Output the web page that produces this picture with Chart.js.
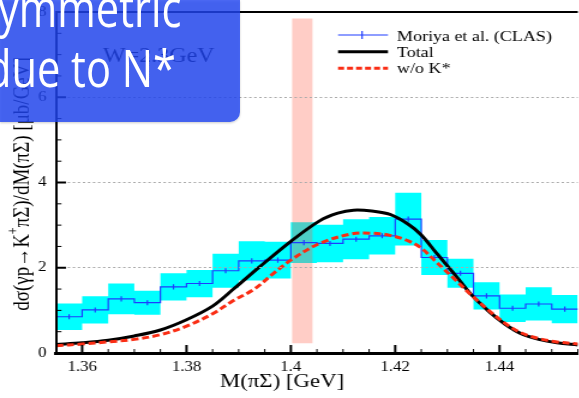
<!DOCTYPE html>
<html>
<head>
<meta charset="utf-8">
<script src="https://cdn.jsdelivr.net/npm/chart.js@4"></script>
<style>
  html, body { margin: 0; padding: 0; background: #fff; overflow: hidden; width: 579px; height: 398px; }
  #wrap { position: absolute; left: 0; top: 0; width: 483px; height: 398px; transform: scaleX(1.2); transform-origin: 0 0; }
  #banner { position: absolute; left: 0; top: 0; z-index: 2; }
</style>
</head>
<body>
<div id="wrap"><canvas id="myChart"></canvas></div>
<svg id="banner" width="246" height="128">
  <defs>
    <filter id="shadow" x="-5%" y="-5%" width="110%" height="115%">
      <feDropShadow dx="0" dy="1" stdDeviation="1" flood-color="#000" flood-opacity="0.25"/>
    </filter>
  </defs>
  <path d="M0 0 H240 V112 A10 10 0 0 1 230 122 H0 Z" fill="rgba(30,70,240,0.8)" filter="url(#shadow)"/>
  <g font-family="'Open Sans', sans-serif" font-size="52" fill="#fff" transform="scale(0.8,1)">
    <text x="-2.5" y="27">ymmetric</text>
    <text x="-17.5" y="87">due to N*</text>
  </g>
</svg>
<script>
// M(piSigma) bins, lower edges [GeV]
const binLo = [1.355, 1.36, 1.365, 1.37, 1.375, 1.38, 1.385, 1.39, 1.395, 1.40,
               1.405, 1.41, 1.415, 1.42, 1.425, 1.43, 1.435, 1.44, 1.445, 1.45];
const binHi = 1.455;
// CLAS data, dsigma/dM [mub/GeV]
const xsec = [0.85, 1.01, 1.27, 1.18, 1.55, 1.63, 1.93, 2.16, 2.18, 2.59,
              2.57, 2.67, 2.75, 3.14, 2.24, 1.87, 1.34, 1.05, 1.15, 1.03];
const sysErr = [0.31, 0.32, 0.36, 0.28, 0.32, 0.32, 0.40, 0.46, 0.43, 0.48,
                0.44, 0.47, 0.44, 0.62, 0.41, 0.34, 0.32, 0.32, 0.39, 0.33];
const statErr = [0.06, 0.06, 0.06, 0.06, 0.06, 0.06, 0.06, 0.06, 0.06, 0.06,
                 0.06, 0.06, 0.06, 0.06, 0.06, 0.06, 0.06, 0.06, 0.06, 0.06];

// model curves
const totalM = [1.355, 1.36, 1.365, 1.37, 1.375, 1.38, 1.385, 1.389, 1.394, 1.40, 1.4055, 1.409, 1.412,
                1.4155, 1.419, 1.4225, 1.425, 1.428, 1.4315, 1.4345, 1.438, 1.441, 1.444, 1.4475, 1.451, 1.455];
const totalY = [0.20, 0.24, 0.30, 0.40, 0.54, 0.78, 1.10, 1.50, 2.02, 2.62, 3.10, 3.28, 3.35,
                3.33, 3.25, 3.02, 2.77, 2.33, 1.83, 1.38, 0.97, 0.68, 0.46, 0.32, 0.24, 0.19];
const noKstarM = [1.355, 1.36, 1.365, 1.37, 1.375, 1.38, 1.385, 1.389, 1.393, 1.3965, 1.40, 1.4055, 1.4115,
                  1.4155, 1.419, 1.4225, 1.425, 1.428, 1.4315, 1.4345, 1.438, 1.441, 1.444, 1.4475, 1.451, 1.455];
const noKstarY = [0.17, 0.21, 0.26, 0.32, 0.43, 0.63, 0.92, 1.23, 1.50, 1.85, 2.18, 2.57, 2.79,
                  2.81, 2.76, 2.63, 2.46, 2.12, 1.72, 1.37, 0.99, 0.70, 0.48, 0.34, 0.26, 0.21];

const kstarBand = [1.4002, 1.4042];
const kstarBandY = [0.23, 7.85];
const xTicks = [1.36, 1.38, 1.40, 1.42, 1.44];
const yTicks = [0, 2, 4, 6, 8];

function steps(vals) {
    const pts = binLo.map((x, i) => ({x: x, y: vals[i]}));
    pts.push({x: binHi, y: vals[vals.length - 1]});
    return pts;
}

const errBars = [];
binLo.forEach((x, i) => {
    const c = (x + (binLo[i + 1] || binHi)) / 2;
    errBars.push({x: c, y: xsec[i] - statErr[i]}, {x: c, y: xsec[i] + statErr[i]}, {x: c, y: null});
});

const serif = '"Liberation Serif", "Times New Roman", serif';
const none = 'rgba(0,0,0,0)';

// axis ticks pointing inward, frame, legend and labels
const decorations = {
    id: 'decorations',
    afterDraw(chart) {
        const ctx = chart.ctx;
        const area = chart.chartArea;
        const xs = chart.scales.x, ys = chart.scales.y;
        ctx.save();
        ctx.strokeStyle = '#000';

        // top frame
        ctx.lineWidth = 2;
        ctx.beginPath();
        ctx.moveTo(area.left, area.top);
        ctx.lineTo(area.right, area.top);
        ctx.stroke();

        for (let k = 0; k <= 16; k++) {
            const v = k * 0.5;
            const major = k % 4 === 0;
            const y = ys.getPixelForValue(v);
            ctx.lineWidth = major ? 2 : 1;
            ctx.beginPath();
            ctx.moveTo(area.left, y);
            ctx.lineTo(area.left + (major ? 8.3 : 4.5), y);
            ctx.stroke();
        }
        for (let k = 0; k <= 20; k++) {
            const v = 1.355 + k * 0.005;
            const major = xTicks.some(t => Math.abs(t - v) < 1e-6);
            const x = xs.getPixelForValue(v);
            ctx.lineWidth = major ? 2 : 1;
            ctx.beginPath();
            ctx.moveTo(x, area.bottom);
            ctx.lineTo(x, area.bottom - (major ? 8 : 4));
            ctx.stroke();
        }

        // legend
        ctx.lineWidth = 1.2;
        ctx.strokeStyle = 'rgb(30,60,255)';
        ctx.beginPath();
        ctx.moveTo(281.7, 35); ctx.lineTo(323.3, 35);
        ctx.moveTo(301.7, 31); ctx.lineTo(301.7, 39);
        ctx.stroke();
        ctx.lineWidth = 3;
        ctx.strokeStyle = '#000';
        ctx.beginPath();
        ctx.moveTo(281.7, 51.7); ctx.lineTo(323.3, 51.7);
        ctx.stroke();
        ctx.strokeStyle = 'rgb(250,45,20)';
        ctx.setLineDash([5, 2.5]);
        ctx.beginPath();
        ctx.moveTo(281.7, 68.3); ctx.lineTo(323.3, 68.3);
        ctx.stroke();
        ctx.setLineDash([]);

        ctx.fillStyle = '#000';
        ctx.textBaseline = 'alphabetic';
        ctx.textAlign = 'left';
        ctx.font = '15px ' + serif;
        ctx.fillText('Moriya et al. (CLAS)', 330.8, 40.7);
        ctx.fillText('Total', 330.8, 56.7);
        ctx.fillText('w/o K*', 330.8, 72.7);

        ctx.font = '20px ' + serif;
        ctx.fillText('W=2.3GeV', 85.8, 62);

        // x title
        ctx.font = '19px ' + serif;
        ctx.textAlign = 'center';
        ctx.fillText('M(πΣ) [GeV]', 235, 387);

        // y title
        ctx.translate(19, 184);
        ctx.rotate(-Math.PI / 2);
        const parts = [['dσ(γp→K', '19px ' + serif, 0], ['+', '12px ' + serif, -7], ['πΣ)/dM(πΣ) [μb/GeV]', '19px ' + serif, 0]];
        let total = 0;
        parts.forEach(p => { ctx.font = p[1]; total += ctx.measureText(p[0]).width; });
        let px = -total / 2;
        ctx.textAlign = 'left';
        ctx.textBaseline = 'middle';
        parts.forEach(p => {
            ctx.font = p[1];
            ctx.fillText(p[0], px, p[2]);
            px += ctx.measureText(p[0]).width;
        });
        ctx.restore();
    }
};

const config = {
    type: 'line',
    data: {
        datasets: [
            {   // systematic band, upper edge
                data: steps(xsec.map((v, i) => v + sysErr[i])),
                stepped: true, fill: '+1', backgroundColor: 'rgb(0,255,255)',
                borderColor: none, pointRadius: 0, order: 6
            },
            {   // systematic band, lower edge
                data: steps(xsec.map((v, i) => v - sysErr[i])),
                stepped: true, fill: false, borderColor: none, pointRadius: 0, order: 6
            },
            {   // K* threshold region
                data: [{x: kstarBand[0], y: kstarBandY[1]}, {x: kstarBand[1], y: kstarBandY[1]}],
                fill: {value: kstarBandY[0]}, backgroundColor: 'rgba(255,88,65,0.3)',
                borderColor: none, pointRadius: 0, order: 5
            },
            {
                label: 'Moriya et al. (CLAS)',
                data: steps(xsec),
                stepped: true, borderColor: 'rgb(30,60,255)', borderWidth: 1.2,
                fill: false, pointRadius: 0, order: 4
            },
            {
                data: errBars,
                borderColor: 'rgb(30,60,255)', borderWidth: 1.2, spanGaps: false,
                fill: false, pointRadius: 0, order: 3
            },
            {
                label: 'Total',
                data: totalM.map((x, i) => ({x: x, y: totalY[i]})),
                borderColor: '#000', borderWidth: 3, tension: 0.35,
                fill: false, pointRadius: 0, order: 2
            },
            {
                label: 'w/o K*',
                data: noKstarM.map((x, i) => ({x: x, y: noKstarY[i]})),
                borderColor: 'rgb(250,45,20)', borderWidth: 3, borderDash: [6, 3],
                tension: 0.35, fill: false, pointRadius: 0, order: 1
            }
        ]
    },
    options: {
        responsive: true,
        maintainAspectRatio: false,
        animation: false,
        events: [],
        layout: { padding: { top: 12, left: 0, right: 0, bottom: 0 } },
        plugins: { legend: { display: false }, tooltip: { enabled: false } },
        scales: {
            x: {
                type: 'linear', min: 1.355, max: 1.455,
                afterBuildTicks: s => { s.ticks = xTicks.map(v => ({value: v})); },
                afterFit: s => { s.height = 45; s.paddingLeft = 0; s.paddingRight = 0; },
                grid: { display: false, drawTicks: false, tickLength: 0 },
                border: { display: true, color: '#000', width: 3, z: 1 },
                ticks: {
                    color: '#000', padding: 6, maxRotation: 0,
                    font: { family: serif, size: 14 },
                    callback: v => String(+v.toFixed(2))
                }
            },
            y: {
                min: 0, max: 8,
                afterBuildTicks: s => { s.ticks = yTicks.map(v => ({value: v})); },
                afterFit: s => { s.width = 46.7; s.paddingTop = 0; s.paddingBottom = 0; },
                grid: {
                    z: 1, drawTicks: false, tickLength: 0, lineWidth: 1,
                    color: c => (c.tick && c.tick.value > 0 && c.tick.value < 8) ? '#aaa' : none
                },
                border: { display: true, color: '#000', width: 2, dash: [2, 2.2], z: 1 },
                ticks: { color: '#000', padding: 8, font: { family: serif, size: 14 } }
            }
        }
    },
    plugins: [decorations]
};

const myChart = new Chart(document.getElementById('myChart'), config);
</script>
</body>
</html>
